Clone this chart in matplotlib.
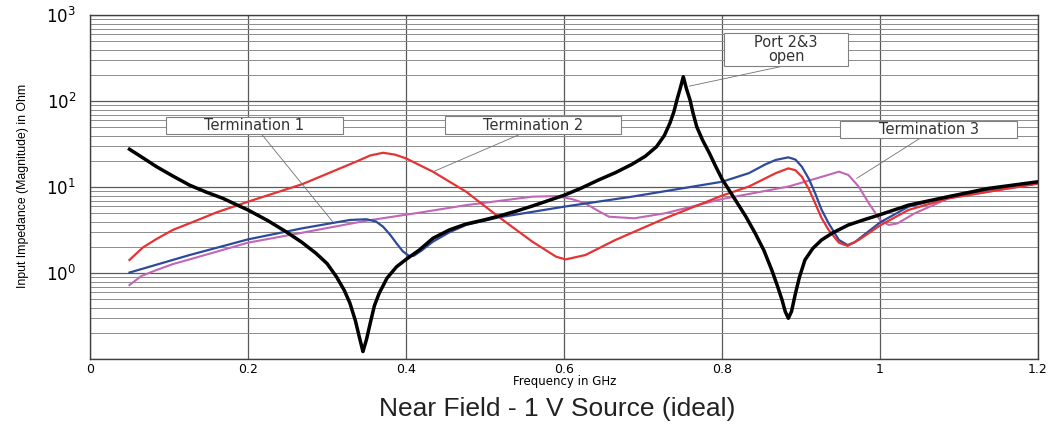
import matplotlib
matplotlib.use('Agg')
import matplotlib.pyplot as plt
from matplotlib.patches import Rectangle
from matplotlib.ticker import FixedLocator, FixedFormatter, LogLocator, NullFormatter

# Port 2&3 open (black)
f_open = [0.05, 0.067, 0.084, 0.105, 0.126, 0.147, 0.168, 0.185, 0.2, 0.225, 0.248, 0.268,
          0.286, 0.3, 0.312, 0.322, 0.329, 0.336, 0.341, 0.3455, 0.35, 0.355, 0.36, 0.366,
          0.376, 0.388, 0.4, 0.417, 0.434, 0.455, 0.476, 0.5, 0.518, 0.54, 0.56, 0.58,
          0.6, 0.622, 0.644, 0.665, 0.686, 0.703, 0.717, 0.727, 0.734, 0.739, 0.743, 0.747,
          0.751, 0.755, 0.7595, 0.763, 0.768, 0.775, 0.784, 0.792, 0.8, 0.817, 0.83, 0.842,
          0.853, 0.863, 0.87, 0.876, 0.88, 0.884, 0.888, 0.893, 0.898, 0.905, 0.915, 0.926,
          0.94, 0.96, 0.98, 1.0, 1.036, 1.087, 1.137, 1.2]
z_open = [27.7, 22.0, 17.4, 13.5, 10.6, 8.8, 7.45, 6.3, 5.45, 4.1, 3.05, 2.3,
          1.71, 1.3, 0.91, 0.63, 0.45, 0.28, 0.18, 0.123, 0.17, 0.27, 0.42, 0.585,
          0.88, 1.19, 1.45, 1.87, 2.55, 3.2, 3.74, 4.2, 4.64, 5.3, 6.06, 7.0,
          8.07, 9.8, 12.2, 14.8, 18.5, 23.0, 29.6, 40.0, 55.5, 75.0, 104, 140,
          193, 140, 104, 75.0, 50.7, 36.0, 25.0, 17.5, 12.5, 7.1, 4.6, 2.92,
          1.85, 1.09, 0.72, 0.49, 0.36, 0.30, 0.36, 0.585, 0.9, 1.43, 1.95, 2.44,
          2.95, 3.65, 4.2, 4.8, 6.2, 7.8, 9.7, 11.6]

# Termination 1 (blue)
f_t1 = [0.05, 0.126, 0.2, 0.269, 0.329, 0.35, 0.362, 0.371, 0.38, 0.388, 0.396, 0.404,
        0.41, 0.42, 0.434, 0.455, 0.476, 0.518, 0.6, 0.686, 0.8, 0.834, 0.855, 0.868,
        0.884, 0.893, 0.901, 0.91, 0.918, 0.926, 0.935, 0.948, 0.959, 0.968, 0.977, 1.0,
        1.036, 1.087, 1.2]
z_t1 = [1.02, 1.63, 2.48, 3.34, 4.17, 4.25, 4.0, 3.48, 2.8, 2.23, 1.8, 1.59,
        1.6, 1.85, 2.33, 3.0, 3.65, 4.48, 5.95, 7.78, 11.6, 14.6, 18.5, 20.8,
        22.3, 21.0, 17.4, 12.5, 8.5, 5.5, 3.81, 2.44, 2.13, 2.3, 2.67, 3.9,
        5.95, 7.8, 11.1]

# Termination 2 (red)
f_t2 = [0.05, 0.067, 0.084, 0.105, 0.126, 0.16, 0.2, 0.269, 0.337, 0.355, 0.371, 0.386,
        0.4, 0.434, 0.476, 0.518, 0.56, 0.59, 0.602, 0.627, 0.665, 0.728, 0.8, 0.834,
        0.868, 0.884, 0.893, 0.901, 0.91, 0.918, 0.926, 0.935, 0.948, 0.959, 0.973, 1.0,
        1.036, 1.087, 1.2]
z_t2 = [1.43, 2.0, 2.5, 3.2, 3.81, 5.1, 6.8, 10.9, 19.9, 23.5, 25.2, 24.0,
        21.7, 15.2, 8.9, 4.48, 2.33, 1.56, 1.45, 1.63, 2.44, 4.36, 8.0, 10.2,
        14.6, 16.6, 15.8, 13.3, 9.5, 6.5, 4.4, 3.19, 2.27, 2.08, 2.44, 3.6,
        5.45, 7.45, 11.1]

# Termination 3 (purple)
f_t3 = [0.05, 0.065, 0.084, 0.105, 0.126, 0.2, 0.269, 0.35, 0.417, 0.476, 0.56, 0.59,
        0.61, 0.627, 0.642, 0.657, 0.689, 0.728, 0.8, 0.884, 0.927, 0.948, 0.96, 0.973,
        0.986, 1.0, 1.011, 1.022, 1.044, 1.087, 1.2]
z_t3 = [0.73, 0.93, 1.09, 1.28, 1.45, 2.27, 2.97, 4.09, 5.07, 6.2, 7.78, 7.9,
        7.3, 6.5, 5.4, 4.55, 4.36, 4.99, 7.3, 10.2, 13.3, 15.2, 13.9, 10.2,
        6.5, 4.17, 3.65, 3.8, 4.99, 7.45, 11.0]

x_ticks = [0, 0.2, 0.4, 0.6, 0.8, 1.0, 1.2]
x_labels = ['0', '0.2', '0.4', '0.6', '0.8', '1', '1.2']
y_ticks = [0.1, 1, 10, 100, 1000]
y_labels = ['', r'$10^{0}$', r'$10^{1}$', r'$10^{2}$', r'$10^{3}$']

W, H = 1057, 425
fig = plt.figure(figsize=(W / 100, H / 100), dpi=100)
ax = fig.add_axes([90 / W, 1 - 359.3 / H, 948 / W, 344 / H])

ax.plot(f_t3, z_t3, color='#c266b6', lw=1.5, zorder=3, solid_joinstyle='round')
ax.plot(f_t1, z_t1, color='#2e4a9c', lw=1.6, zorder=3, solid_joinstyle='round')
ax.plot(f_t2, z_t2, color='#e53333', lw=1.6, zorder=3, solid_joinstyle='round')
ax.plot(f_open, z_open, color='black', lw=2.5, zorder=4, solid_joinstyle='round')

ax.set_yscale('log')
ax.set_xlim(0, 1.2)
ax.set_ylim(0.1, 1000)
ax.xaxis.set_major_locator(FixedLocator(x_ticks))
ax.xaxis.set_major_formatter(FixedFormatter(x_labels))
ax.yaxis.set_major_locator(FixedLocator(y_ticks))
ax.yaxis.set_major_formatter(FixedFormatter(y_labels))
ax.yaxis.set_minor_locator(LogLocator(base=10, subs=range(2, 10)))
ax.yaxis.set_minor_formatter(NullFormatter())
ax.tick_params(which='both', length=0)
ax.tick_params(axis='x', labelsize=9, pad=3)
ax.tick_params(axis='y', labelsize=12, pad=10)
ax.grid(True, which='major', color='#5a5a5a', lw=0.9)
ax.grid(True, which='minor', axis='y', color='#8c8c8c', lw=0.7)
ax.set_axisbelow(True)
for s in ax.spines.values():
    s.set_color('#404040')
    s.set_linewidth(1.0)

# annotation boxes (pixel box, pixel start of leader, data end of leader)
notes = [
    ('Termination 1', (166, 343, 117, 134.3), (261.7, 134.3), (0.307, 4.0)),
    ('Termination 2', (444.7, 621.3, 116, 134.3), (520, 134.3), (0.4346, 15.2)),
    ('Port 2&3\nopen', (724, 848.3, 32.7, 65.7), (785, 65.7), (0.7586, 150)),
    ('Termination 3', (840, 1017.3, 120.7, 138.3), (920, 138.3), (0.9705, 12.7)),
]
for label, (x0, x1, yt, yb), (lx, ly), end in notes:
    ax.annotate('', xy=end, xycoords='data', xytext=(lx / W, 1 - ly / H),
                textcoords='figure fraction',
                arrowprops=dict(arrowstyle='-', color='#707070', lw=0.6,
                                shrinkA=0, shrinkB=0), zorder=5)
    fig.patches.append(Rectangle((x0 / W, 1 - yb / H), (x1 - x0) / W, (yb - yt) / H,
                                 transform=fig.transFigure, facecolor='white',
                                 edgecolor='#808080', lw=0.8, zorder=6))
    fig.text((x0 + x1) / 2 / W, 1 - (yt + yb) / 2 / H, label, ha='center', va='center',
             fontsize=10.5, color='#333333', linespacing=0.95, zorder=7)

narrow = ['Liberation Sans Narrow', 'Liberation Sans', 'DejaVu Sans']
fig.text(23 / W, 1 - 185.5 / H, 'Input Impedance (Magnitude) in Ohm', rotation=90,
         ha='center', va='center', fontsize=8.8, family=narrow)
fig.text(565 / W, 1 - 382 / H, 'Frequency in GHz', ha='center', va='center', fontsize=8.5)
fig.text(557 / W, 1 - 409 / H, 'Near Field - 1 V Source (ideal)', ha='center',
         va='center', fontsize=19, family=narrow, color='#222222')

fig.savefig('out.png', dpi=100)
